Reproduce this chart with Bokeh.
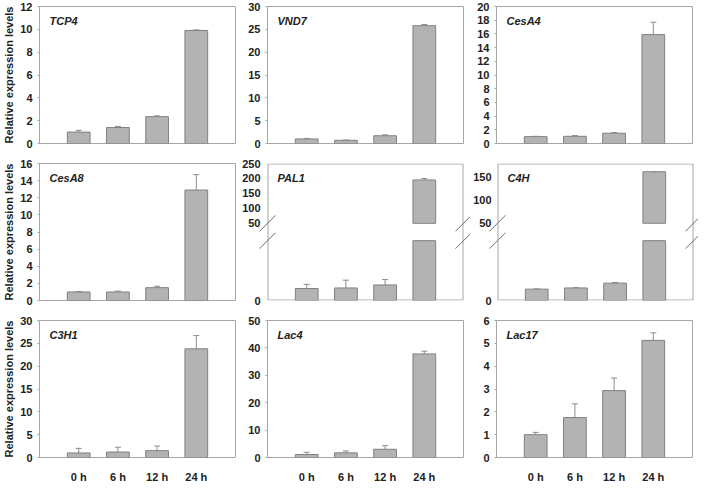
from bokeh.plotting import figure
from bokeh.layouts import column, row
from bokeh.models import Range1d, FixedTicker, Whisker, TeeHead, Label, ColumnDataSource
from bokeh.embed import file_html
from bokeh.resources import INLINE

# ---------------- data ----------------
times = ["0 h", "6 h", "12 h", "24 h"]
positions = [1, 2, 3, 4]

tcp4 = [1.0, 1.4, 2.35, 9.9]
tcp4_err = [0.15, 0.1, 0.07, 0.05]
tcp4_ticks = [0, 2, 4, 6, 8, 10, 12]

vnd7 = [1.0, 0.7, 1.7, 25.8]
vnd7_err = [0.1, 0.05, 0.2, 0.25]
vnd7_ticks = [0, 5, 10, 15, 20, 25, 30]

cesa4 = [1.0, 1.05, 1.5, 15.9]
cesa4_err = [0.05, 0.1, 0.1, 1.8]
cesa4_ticks = [0, 2, 4, 6, 8, 10, 12, 14, 16, 18, 20]

cesa8 = [1.0, 1.0, 1.5, 12.9]
cesa8_err = [0.05, 0.1, 0.17, 1.8]
cesa8_ticks = [0, 2, 4, 6, 8, 10, 12, 14, 16]

pal1 = [1.0, 1.05, 1.3, 195.0]
pal1_err = [0.35, 0.65, 0.45, 5.0]
pal1_upper_ticks = [50, 100, 150, 200, 250]

c4h = [0.95, 1.05, 1.45, 162.0]
c4h_err = [0.02, 0.03, 0.05, 0.0]
c4h_upper_ticks = [50, 100, 150]

c3h1 = [1.0, 1.2, 1.5, 23.8]
c3h1_err = [1.0, 1.05, 1.0, 2.9]
c3h1_ticks = [0, 5, 10, 15, 20, 25, 30]

lac4 = [1.1, 1.7, 3.0, 37.8]
lac4_err = [0.8, 0.7, 1.3, 1.0]
lac4_ticks = [0, 10, 20, 30, 40, 50]

lac17 = [1.0, 1.75, 2.93, 5.13]
lac17_err = [0.1, 0.6, 0.55, 0.33]
lac17_ticks = [0, 1, 2, 3, 4, 5, 6]

# broken-axis settings
lower_max = 5
upper_min = 50
pal1_upper_max = 250
c4h_upper_max = 180

# ---------------- style / layout ----------------
FW, FH = 196, 137
XMAX = 5
XPX = XMAX / FW            # data units per pixel along x
LEFT = [35, 28, 28]
RIGHT = [4, 5, 4]
TOP = [6, 8, 8]
BOTTOM = [12, 12, 20]
LO_FRAC = 62 / 142
HI_FRAC = 80 / 142
SLASH = 8                  # half size of break marks, px

BOX = "#a6a6a6"
BAR = "#b3b3b3"
BAR_EDGE = "#808080"
ERR = "#8c8c8c"
TXT = "#222222"
MARK = "#6e6e6e"
FONT = "Liberation Sans"
BAR_W = 0.58


def base_fig(col, r, y_range, name, ext_l=0, ext_r=0, left=None, right=None, gap=7):
    p = figure(frame_width=FW + ext_l + ext_r, frame_height=FH,
               x_range=Range1d(-ext_l * XPX, XMAX + ext_r * XPX), y_range=y_range,
               output_backend="svg", toolbar_location=None, tools="", title=None,
               x_axis_location="below" if r == 2 else None,
               min_border_left=LEFT[col] if left is None else left,
               min_border_right=RIGHT[col] if right is None else right,
               min_border_top=TOP[r], min_border_bottom=BOTTOM[r])
    p.outline_line_color = BOX if ext_l == 0 and ext_r == 0 else None
    p.outline_line_width = 1
    p.xgrid.visible = False
    p.ygrid.visible = False
    p.background_fill_color = "white"
    p.border_fill_color = "white"
    yax = p.yaxis[0]
    yax.axis_line_color = None
    yax.minor_tick_line_color = None
    if ext_l == 0:
        yax.major_tick_line_color = BOX
        yax.major_tick_out = 2
        yax.major_tick_in = 0
        yax.major_label_standoff = gap - 2
    else:
        yax.major_tick_line_color = None
        yax.major_tick_out = 0
        yax.major_tick_in = 0
        yax.major_label_standoff = gap - ext_l
    yax.major_label_text_font = FONT
    yax.major_label_text_font_size = "11px"
    yax.major_label_text_font_style = "bold"
    yax.major_label_text_color = TXT
    if col == 0:
        yax.axis_label = "Relative expression levels"
        yax.axis_label_text_font = FONT
        yax.axis_label_text_font_size = "11px"
        yax.axis_label_text_font_style = "bold"
        yax.axis_label_text_color = TXT
        yax.axis_label_standoff = 2
    if r == 2:
        xax = p.xaxis[0]
        xax.ticker = FixedTicker(ticks=positions)
        xax.major_label_overrides = {pos: t for pos, t in zip(positions, times)}
        xax.axis_line_color = None
        xax.major_tick_line_color = None
        xax.minor_tick_line_color = None
        xax.major_label_standoff = 7
        xax.major_label_text_font = FONT
        xax.major_label_text_font_size = "11px"
        xax.major_label_text_font_style = "bold"
        xax.major_label_text_color = TXT
    p.add_layout(Label(x=10 + ext_l, y=FH - 8, x_units="screen", y_units="screen", text=name,
                       text_font=FONT, text_font_size="11px", text_font_style="bold italic",
                       text_baseline="top", text_color=TXT))
    return p


def add_bars(p, xs, tops, bottoms, errs, range_name="default"):
    src = ColumnDataSource(dict(x=xs, top=tops, bottom=bottoms,
                                up=[t + e for t, e in zip(tops, errs)]))
    p.vbar(x="x", top="top", bottom="bottom", width=BAR_W, source=src,
           fill_color=BAR, line_color=BAR_EDGE, line_width=1, y_range_name=range_name)
    p.add_layout(Whisker(source=src, base="x", lower="top", upper="up", dimension="height",
                         upper_head=TeeHead(size=6, line_color=ERR, line_width=1),
                         lower_head=None, line_color=ERR, line_width=1,
                         y_range_name=range_name))


def simple_panel(name, vals, errs, ticks, col, r):
    p = base_fig(col, r, Range1d(0, ticks[-1]), name)
    p.yaxis[0].ticker = FixedTicker(ticks=ticks)
    add_bars(p, positions, vals, [0] * len(vals), errs)
    return p


def broken_panel(name, vals, errs, upper_ticks, upper_max, col, r,
                 ext_l, ext_r, left, right, gap):
    upper_start = round(upper_max - (upper_max - upper_min) / (1 - HI_FRAC))
    lower_end = lower_max / LO_FRAC
    p = base_fig(col, r, Range1d(upper_start, upper_max), name,
                 ext_l=ext_l, ext_r=ext_r, left=left, right=right, gap=gap)
    p.extra_y_ranges = {"lower": Range1d(0, lower_end)}
    p.yaxis[0].ticker = FixedTicker(ticks=[upper_start] + upper_ticks)
    p.yaxis[0].major_label_overrides = {upper_start: "0"}
    # panel box (the frame is wider than the box so break marks can cross its sides)
    ypx = (upper_max - upper_start) / FH
    p.quad(left=0.5 * XPX, right=XMAX - 0.5 * XPX,
           bottom=upper_start + 0.5 * ypx, top=upper_max - 0.5 * ypx,
           fill_color=None, line_color=BOX, line_width=1)
    # lower segment
    lt = [min(v, lower_max) for v in vals]
    src = ColumnDataSource(dict(x=positions, top=lt, bottom=[0] * len(lt)))
    p.vbar(x="x", top="top", bottom="bottom", width=BAR_W, source=src,
           fill_color=BAR, line_color=BAR_EDGE, line_width=1, y_range_name="lower")
    sx = [x for x, v in zip(positions, vals) if v <= lower_max]
    sv = [v for v in vals if v <= lower_max]
    se = [e for v, e in zip(vals, errs) if v <= lower_max]
    wsrc = ColumnDataSource(dict(x=sx, top=sv, up=[v + e for v, e in zip(sv, se)]))
    p.add_layout(Whisker(source=wsrc, base="x", lower="top", upper="up", dimension="height",
                         upper_head=TeeHead(size=6, line_color=ERR, line_width=1),
                         lower_head=None, line_color=ERR, line_width=1, y_range_name="lower"))
    # upper segment
    ux = [x for x, v in zip(positions, vals) if v > upper_min]
    uv = [v for v in vals if v > upper_min]
    ue = [e for v, e in zip(vals, errs) if v > upper_min]
    add_bars(p, ux, uv, [upper_min] * len(uv), ue)
    # break marks "//" on both sides of the box
    lpx = lower_end / FH
    edges = [0, XMAX]
    p.segment(x0=[e - SLASH * XPX for e in edges], x1=[e + SLASH * XPX for e in edges],
              y0=[upper_min - SLASH * ypx] * 2, y1=[upper_min + SLASH * ypx] * 2,
              line_color=MARK, line_width=1)
    p.segment(x0=[e - SLASH * XPX for e in edges], x1=[e + SLASH * XPX for e in edges],
              y0=[lower_max - SLASH * lpx] * 2, y1=[lower_max + SLASH * lpx] * 2,
              line_color=MARK, line_width=1, y_range_name="lower")
    return p


p1 = simple_panel("TCP4", tcp4, tcp4_err, tcp4_ticks, 0, 0)
p2 = simple_panel("VND7", vnd7, vnd7_err, vnd7_ticks, 1, 0)
p3 = simple_panel("CesA4", cesa4, cesa4_err, cesa4_ticks, 2, 0)
p4 = simple_panel("CesA8", cesa8, cesa8_err, cesa8_ticks, 0, 1)
p5 = broken_panel("PAL1", pal1, pal1_err, pal1_upper_ticks, pal1_upper_max, 1, 1,
                  ext_l=9, ext_r=7, left=19, right=0, gap=7)
p6 = broken_panel("C4H", c4h, c4h_err, c4h_upper_ticks, c4h_upper_max, 2, 1,
                  ext_l=9, ext_r=5, left=17, right=0, gap=6)
p7 = simple_panel("C3H1", c3h1, c3h1_err, c3h1_ticks, 0, 2)
p8 = simple_panel("Lac4", lac4, lac4_err, lac4_ticks, 1, 2)
p9 = simple_panel("Lac17", lac17, lac17_err, lac17_ticks, 2, 2)

layout = column(row(p1, p2, p3), row(p4, p5, p6), row(p7, p8, p9))

open("out.html", "w").write(file_html(layout, INLINE))
